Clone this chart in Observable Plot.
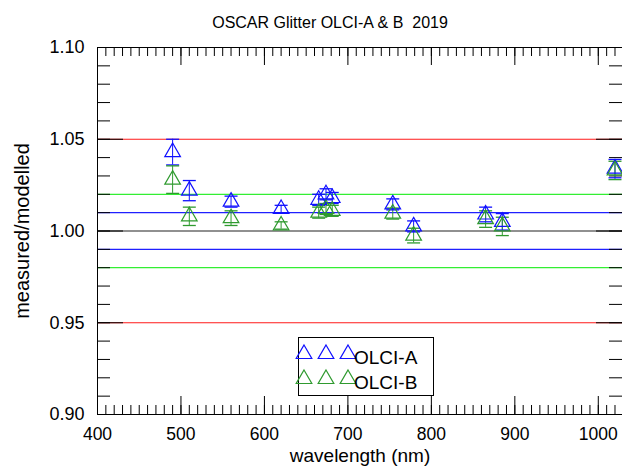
<!DOCTYPE html>
<html>
<head>
<meta charset="utf-8">
<script src="https://cdn.jsdelivr.net/npm/d3@7"></script>
<script src="https://cdn.jsdelivr.net/npm/@observablehq/plot@0.6"></script>
<style>
  html, body { margin: 0; padding: 0; background: #fff; }
  #wrap { position: relative; width: 622px; height: 472px; font-family: "Liberation Sans", Arial, Helvetica, sans-serif; }
</style>
</head>
<body>
<div id="wrap"></div>
<script>
// ---- data ----
const wavelengths = [490, 510, 560, 620, 665, 673.75, 681.25, 753.75, 778.75, 865, 885, 1020];
const olciA =       [1.043, 1.022, 1.016, 1.012, 1.017, 1.020, 1.018, 1.0145, 1.0025, 1.009, 1.005, 1.034];
const olciAErr =    [0.007, 0.0055, 0.003, 0.002, 0.003, 0.003, 0.003, 0.003, 0.003, 0.004, 0.0045, 0.005];
const olciB =       [1.028, 1.008, 1.007, 1.003, 1.010, 1.012, 1.011, 1.0095, 0.9975, 1.0065, 1.0025, 1.033];
const olciBErr =    [0.0075, 0.005, 0.004, 0.002, 0.003, 0.003, 0.003, 0.003, 0.004, 0.0045, 0.005, 0.005];

const refLevels = [1.05, 0.95, 1.02, 0.98, 1.01, 0.99, 1.00];
const refColors = ["#ff1a1a", "#ff1a1a", "#33ee33", "#33ee33", "#2020ff", "#2020ff", "#222222"];

const xMajorTicks = [400, 500, 600, 700, 800, 900, 1000];
const xMinorTicks = d3.range(400, 1030, 10);
const yMajorTicks = [0.90, 0.95, 1.00, 1.05, 1.10];
const yMinorTicks = d3.range(0.90, 1.1001, 0.01);

const seriesNames = ["OLCI-A", "OLCI-B"];
const seriesColors = ["#1010ff", "#2f9a2f"];

const titleText = "OSCAR Glitter OLCI-A & B  2019";
const xLabel = "wavelength (nm)";
const yLabel = "measured/modelled";

// ---- build table ----
const rows = [];
[olciA, olciB].forEach((vals, s) => {
  const errs = s === 0 ? olciAErr : olciBErr;
  vals.forEach((v, i) => rows.push({series: seriesNames[s], color: seriesColors[s], wl: wavelengths[i], v, lo: v - errs[i], hi: v + errs[i]}));
});
const refs = refLevels.map((y, i) => ({y, color: refColors[i]}));

const W = 622, H = 472;
const mL = 97, mR = 0, mT = 47, mB = 58;
const pw = W - mL - mR, ph = H - mT - mB;
const triR = 5.8;

const capSymbol = {
  draw(context, size) {
    const w = 6.5;
    context.moveTo(-w, 0);
    context.lineTo(w, 0);
  }
};

const font = "'Liberation Sans', Arial, Helvetica, sans-serif";

const chart = Plot.plot({
  width: W,
  height: H,
  marginLeft: mL,
  marginRight: mR,
  marginTop: mT,
  marginBottom: mB,
  style: {fontFamily: font, fontSize: "16px", color: "#000", background: "#fff", overflow: "visible"},
  x: {domain: [400, 1029], axis: null},
  y: {domain: [0.90, 1.10], axis: null},
  marks: [
    // reference lines
    Plot.ruleY(refs, {y: "y", stroke: "color", strokeWidth: 1.2}),
    // frame sides
    Plot.frame({anchor: "left", stroke: "#000"}),
    Plot.frame({anchor: "bottom", stroke: "#000"}),
    Plot.frame({anchor: "top", stroke: "#000"}),
    // x ticks bottom and top
    Plot.tickX(xMinorTicks, {x: d => d, stroke: "#000", insetTop: ph - 9}),
    Plot.tickX(xMajorTicks, {x: d => d, stroke: "#000", insetTop: ph - 18}),
    Plot.tickX(xMinorTicks, {x: d => d, stroke: "#000", insetBottom: ph - 9}),
    Plot.tickX(xMajorTicks, {x: d => d, stroke: "#000", insetBottom: ph - 18}),
    // y ticks left and right
    Plot.tickY(yMinorTicks, {y: d => d, stroke: "#000", insetRight: pw - 13}),
    Plot.tickY(yMajorTicks, {y: d => d, stroke: "#000", insetRight: pw - 26}),
    Plot.tickY(yMinorTicks, {y: d => d, stroke: "#000", insetLeft: pw - 13}),
    Plot.tickY(yMajorTicks, {y: d => d, stroke: "#000", insetLeft: pw - 26}),
    // tick labels
    Plot.axisX({ticks: xMajorTicks, tickSize: 0, tickPadding: 13, fontSize: 17.5, label: null, tickFormat: d => String(d)}),
    Plot.axisY({ticks: yMajorTicks, tickSize: 0, tickPadding: 13, fontSize: 18, label: null, tickFormat: d3.format(".2f")}),
    // error bars
    Plot.ruleX(rows, {x: "wl", y1: "lo", y2: "hi", stroke: "color", strokeWidth: 1}),
    Plot.dot(rows, {x: "wl", y: "lo", symbol: capSymbol, stroke: "color", strokeWidth: 1.3}),
    Plot.dot(rows, {x: "wl", y: "hi", symbol: capSymbol, stroke: "color", strokeWidth: 1.3}),
    // triangles
    Plot.dot(rows, {x: "wl", y: "v", symbol: "triangle", r: triR, stroke: "color", fill: "none", strokeWidth: 1.2}),
    // title and axis labels
    Plot.text([titleText], {frameAnchor: "top", dx: -30, dy: -31, fontSize: 16, text: d => d, fill: "#000"}),
    Plot.text([xLabel], {frameAnchor: "bottom", dx: 0, dy: 47, fontSize: 19, text: d => d, fill: "#000"}),
    Plot.text([yLabel], {frameAnchor: "left", textAnchor: "middle", dx: -75, rotate: -90, fontSize: 20, text: d => d, fill: "#000"})
  ]
});

const wrap = document.getElementById("wrap");
wrap.appendChild(chart);

// ---- legend ----
const lw = 135, lh = 58;
const leg = d3.create("svg").attr("id", "legend").attr("width", lw + 1).attr("height", lh + 1)
  .style("position", "absolute").style("left", "298px").style("top", "337px").style("overflow", "visible");
leg.append("rect").attr("x", 0.5).attr("y", 0.5).attr("width", lw).attr("height", lh)
  .attr("fill", "none").attr("stroke", "#000").attr("stroke-width", 1);
const tri = d3.symbol(d3.symbolTriangle, Math.PI * triR * triR)();
seriesNames.forEach((name, s) => {
  const cy = 17 + s * 25;
  [6, 28, 50].forEach(cx => {
    leg.append("path").attr("d", tri).attr("transform", `translate(${cx},${cy})`)
      .attr("fill", "none").attr("stroke", seriesColors[s]).attr("stroke-width", 1.2);
  });
  leg.append("text").attr("x", 56).attr("y", cy + 3).attr("dy", "0.35em")
    .attr("font-family", font).attr("font-size", 19).attr("fill", "#000").text(name);
});
wrap.appendChild(leg.node());
</script>
</body>
</html>
